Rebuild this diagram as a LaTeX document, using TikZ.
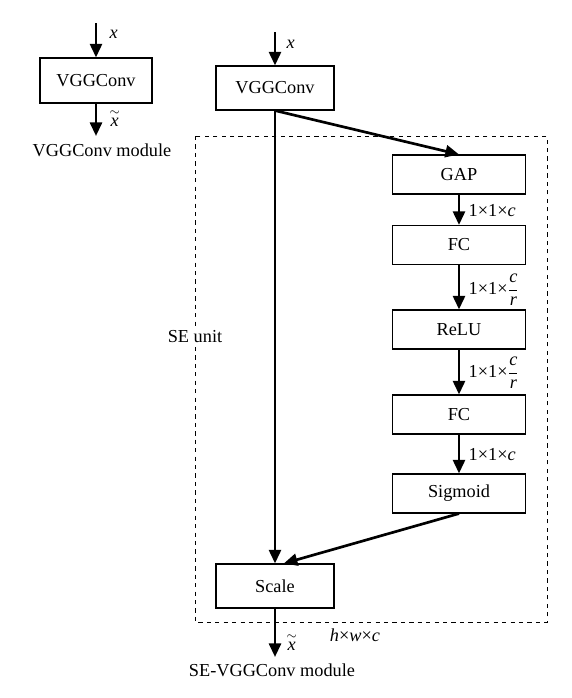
\documentclass[tikz,border=0pt]{standalone}
\usepackage{fontspec}
\setmainfont{Liberation Serif}
\usepackage{tikz}
\usetikzlibrary{arrows.meta,positioning}

\begin{document}
\begin{tikzpicture}[x=0.025cm, y=-0.025cm,
		font=\fontsize{13}{15}\selectfont,
		box/.style={draw, thick, inner sep=0pt, minimum width=2.95cm, minimum height=1.1cm},
		smallbox/.style={box, minimum width=3.325cm, minimum height=0.975cm},
		flow/.style={line width=1.9pt, -{Triangle[length=0.34cm, width=0.3cm]}},
		tag/.style={anchor=west, inner sep=1pt},
		unit/.style={draw, dashed, thin}]
		\useasboundingbox (0,0) rectangle (572,698);

		% plain module
		\node[box, minimum width=2.8cm, minimum height=1.125cm] (convA) at (96,80.5) {VGGConv};
		\coordinate (inA) at (96,23);
		\coordinate (outA) at (96,136);
		\draw[flow] (inA) -- (convA.north);
		\draw[flow] (convA.south) -- (outA);
		\node[tag] (xA) at (108,34) {\textit{x}};
		\node[tag] (xtA) at (108,118) {$\stackrel{\sim}{\textit{x}}$};
		\node (nameA) at (102,150) {VGGConv module};

		% SE module
		\draw[unit] (195,136) rectangle (547,622);
		\node[fill=white, inner sep=1pt] (seunit) at (195,337) {SE unit};

		\node[box] (convB) at (275,88) {VGGConv};
		\node[smallbox] (gap) at (459,174.5) {GAP};
		\node[smallbox] (fcA) at (459,245) {FC};
		\node[smallbox] (relu) at (459,329.5) {ReLU};
		\node[smallbox] (fcB) at (459,414.5) {FC};
		\node[smallbox] (sig) at (459,493.5) {Sigmoid};
		\node[box] (scale) at (275,586) {Scale};

		\coordinate (inB) at (275,32);
		\coordinate (outB) at (275,657);
		\draw[flow] (inB) -- (convB.north);
		\draw[flow] (convB.south) -- (gap.north);
		\draw[flow] (convB.south) -- (scale.north);
		\draw[flow] (gap) -- (fcA);
		\draw[flow] (fcA) -- (relu);
		\draw[flow] (relu) -- (fcB);
		\draw[flow] (fcB) -- (sig);
		\draw[flow] (sig.south) -- ([xshift=0.22cm]scale.north);
		\draw[flow] (scale.south) -- (outB);

		\node[tag] (xB) at (285,44) {\textit{x}};
		\node[tag] (xtB) at (285,642) {$\stackrel{\sim}{\textit{x}}$};
		\node[tag] (dimA) at (467,211) {1×1×\textit{c}};
		\node[tag] (dimB) at (467,290) {1×1×$\displaystyle\frac{\textit{c}}{\textit{r}}$};
		\node[tag] (dimC) at (467,373) {1×1×$\displaystyle\frac{\textit{c}}{\textit{r}}$};
		\node[tag] (dimD) at (467,455) {1×1×\textit{c}};
		\node (dimE) at (355,635) {\textit{h}×\textit{w}×\textit{c}};
		\node (nameB) at (272,670) {SE-VGGConv module};
	\end{tikzpicture}
\end{document}
